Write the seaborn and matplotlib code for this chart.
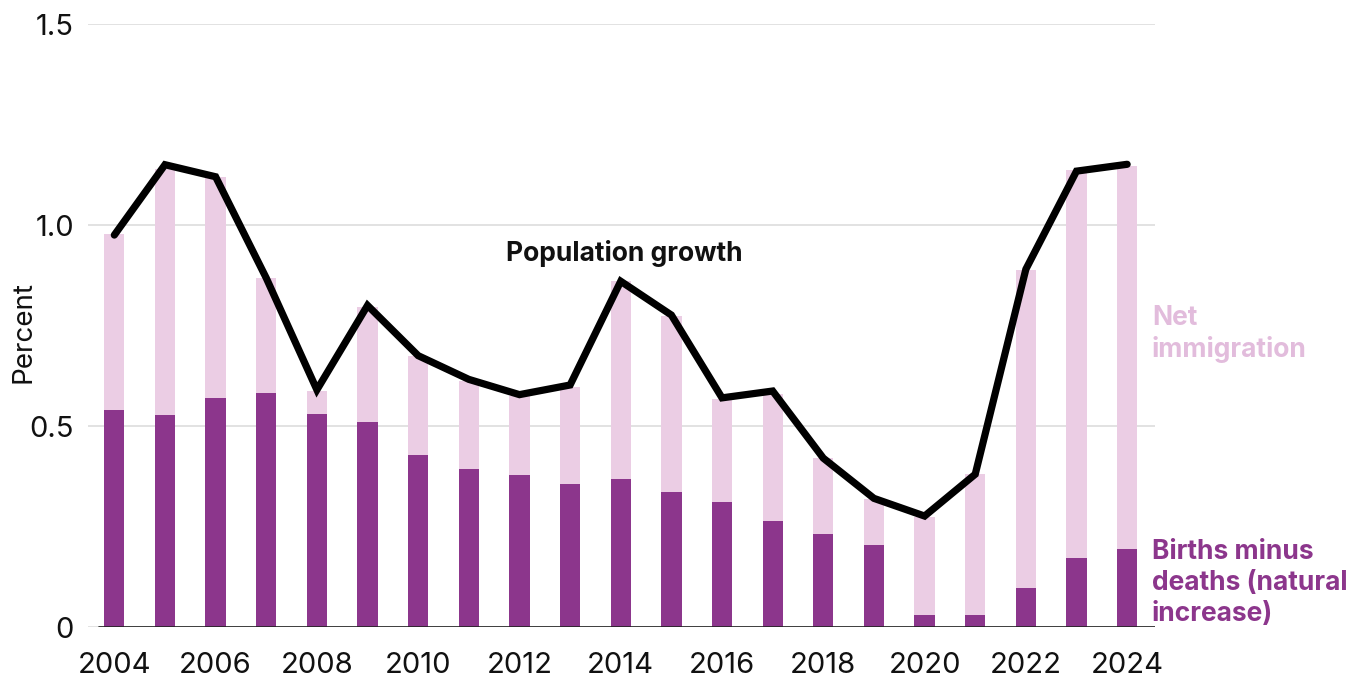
import matplotlib
matplotlib.use("Agg")
import matplotlib.pyplot as plt
import seaborn as sns
import numpy as np
import pandas as pd

years = list(range(2004, 2025))
natural_increase = [0.540, 0.528, 0.570, 0.581, 0.531, 0.510, 0.428, 0.394, 0.378, 0.355,
                    0.368, 0.337, 0.310, 0.263, 0.232, 0.204, 0.029, 0.031, 0.098, 0.171, 0.193]
net_immigration = [0.437, 0.612, 0.550, 0.287, 0.057, 0.285, 0.247, 0.217, 0.196, 0.242,
                   0.492, 0.437, 0.258, 0.317, 0.188, 0.115, 0.244, 0.349, 0.791, 0.966, 0.954]
population_growth = [0.975, 1.150, 1.120, 0.868, 0.590, 0.800, 0.675, 0.616, 0.578, 0.602,
                     0.860, 0.776, 0.570, 0.587, 0.420, 0.320, 0.276, 0.380, 0.890, 1.134, 1.151]
y_ticks = [0, 0.5, 1.0, 1.5]
y_tick_labels = ["0", "0.5", "1.0", "1.5"]

sns.set_theme(style="white")
FONT = ["Inter", "DejaVu Sans"]
plt.rcParams["font.family"] = FONT

DARK = "#8C368C"
LIGHT = "#EBCDE4"
LIGHT_TXT = "#E2BCDC"

df = pd.DataFrame({
    "year": [str(y) for y in years],
    "natural": natural_increase,
    "immigration": net_immigration,
    "growth": population_growth,
})
df["total"] = df["natural"] + df["immigration"]
df["pos"] = np.arange(len(df))

fig = plt.figure(figsize=(13.66, 6.8), dpi=100)
ax = fig.add_axes([88 / 1366, 53 / 680, (1155 - 88) / 1366, (627 - 24) / 680])

sns.barplot(data=df, x="year", y="total", color=LIGHT, width=0.4, saturation=1,
            ax=ax, linewidth=0, zorder=2)
sns.barplot(data=df, x="year", y="natural", color=DARK, width=0.4, saturation=1,
            ax=ax, linewidth=0, zorder=3)
sns.lineplot(data=df, x="pos", y="growth", color="black", linewidth=5.2, ax=ax,
             zorder=4, solid_capstyle="round", solid_joinstyle="miter")

ax.set_xlim(-0.52, 20.55)
ax.set_ylim(0, 1.5)
ax.set_yticks(y_ticks)
ax.set_yticklabels(y_tick_labels)
ax.set_xticks(df["pos"][::2])
ax.set_xticklabels(df["year"][::2])
ax.tick_params(axis="both", length=0, labelsize=21, colors="#111111")
ax.tick_params(axis="y", pad=10)
ax.tick_params(axis="x", pad=18)
ax.set_xlabel("")
ax.set_ylabel("Percent", fontsize=20, color="#111111")
ax.yaxis.set_label_coords(-0.048, 0.49)
for s in ax.spines.values():
    s.set_visible(False)
ax.grid(axis="y", color="#DDDDDD", linewidth=1.2, zorder=0)
ax.set_axisbelow(True)
ax.axhline(0, xmin=0.0105, xmax=1, color="#222222", linewidth=1.2, zorder=5)

ax.text(10.07, 0.93, "Population growth", fontsize=19, fontweight="bold",
        ha="center", va="center", color="#111111")

ax.text(0.997, 0.486, "Net\nimmigration", transform=ax.transAxes, fontsize=19,
        fontweight="bold", color=LIGHT_TXT, ha="left", va="center", linespacing=1.27)
ax.text(0.997, 0.073, "Births minus\ndeaths (natural\nincrease)", transform=ax.transAxes,
        fontsize=19, fontweight="bold", color=DARK, ha="left", va="center", linespacing=1.27)

fig.savefig("out.png", dpi=100)
